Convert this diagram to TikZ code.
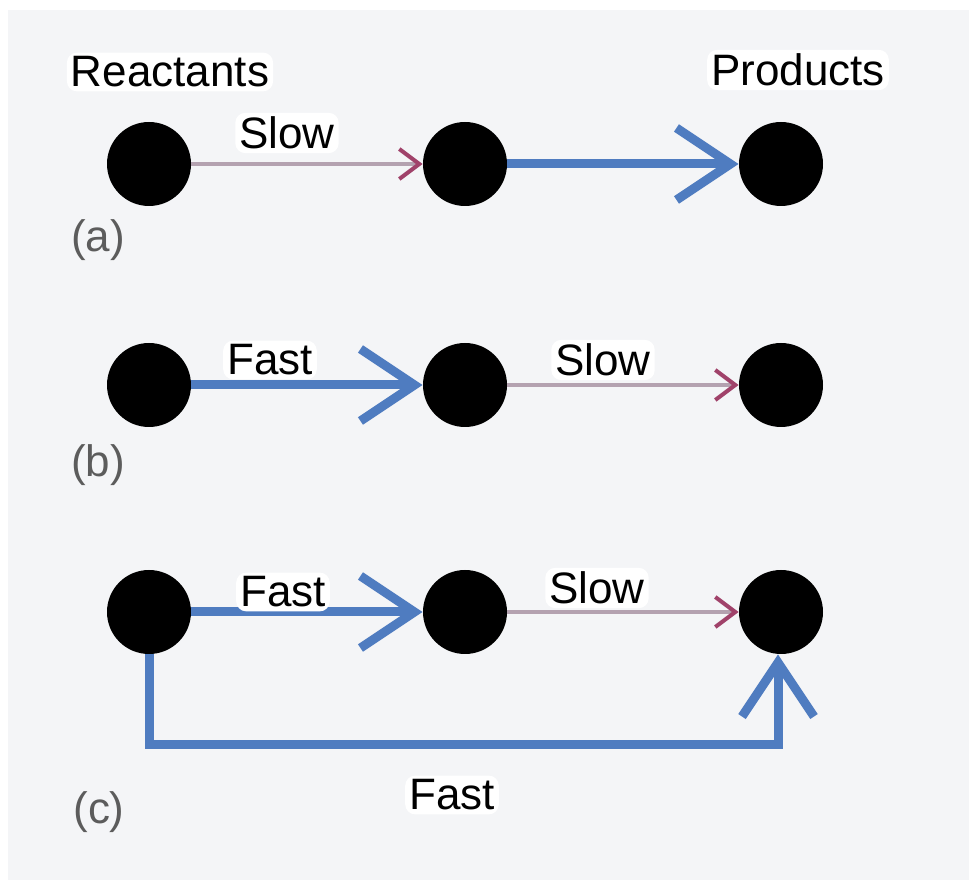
\documentclass[tikz,border=0pt]{standalone}
\usepackage{fontspec}
\setmainfont{Liberation Sans}
\usetikzlibrary{arrows.meta}
\definecolor{fastblue}{HTML}{4F7CC0}
\definecolor{slowline}{HTML}{B4A2B0}
\definecolor{slowhead}{HTML}{A0426A}
\definecolor{paper}{HTML}{F4F5F7}
\definecolor{taggrey}{HTML}{5C5C5C}

\begin{document}
\begin{tikzpicture}
		[x=0.5pt, y=-0.5pt, node distance={158pt},
		main/.style = {circle, fill=black, minimum size=42pt, inner sep=0pt},
		fast/.style = {draw=fastblue, line width=4.5pt, line join=miter, -{Straight Barb[length=27pt,width=36pt]}},
		slow/.style = {draw=slowline, line width=2pt, -{Straight Barb[length=10pt,width=15pt,color=slowhead]}},
		lbl/.style = {fill=white, rounded corners=5pt, inner sep=2pt, font=\fontsize{22}{26}\selectfont},
		tag/.style = {text=taggrey, font=\fontsize{22}{26}\selectfont}]
	\useasboundingbox[fill=white] (0,0) rectangle (969,886);
	\fill[paper] (8,10) rectangle (969,880);
	\node[main] (1) at (149,164) {};
	\node[main] (2) [right of = 1] {};
	\node[main] (3) [right of = 2] {};
	\node[main] (4) at (149,385) {};
	\node[main] (5) [right of = 4] {};
	\node[main] (6) [right of = 5] {};
	\node[main] (7) at (149,612) {};
	\node[main] (8) [right of = 7] {};
	\node[main] (9) [right of = 8] {};
	\coordinate (bend) at (778,745);
	\draw[slow] (1) -- (2);
	\draw[fast] (2) -- (3);
	\draw[fast] (4) -- (5);
	\draw[slow] (5) -- (6);
	\draw[fast] (7) -- (8);
	\draw[slow] (8) -- (9);
	\draw[fast] (7.south) |- (bend) -- (bend |- 9.south);
	\node[lbl] (react) at (170,72) {Reactants};
	\node[lbl] (prod) at (798,70) {Products};
	\node[lbl] (sa) at (287,133) {Slow};
	\node[lbl] (fb) at (270,360) {Fast};
	\node[lbl] (sb) at (603,360) {Slow};
	\node[lbl] (fc) at (283,592) {Fast};
	\node[lbl] (sc) at (597,588) {Slow};
	\node[lbl] (fd) at (452,795) {Fast};
	\node[tag] (ta) at (98,240) {(a)};
	\node[tag] (tb) at (98,465) {(b)};
	\node[tag] (tc) at (99,812) {(c)};
\end{tikzpicture}
\end{document}
